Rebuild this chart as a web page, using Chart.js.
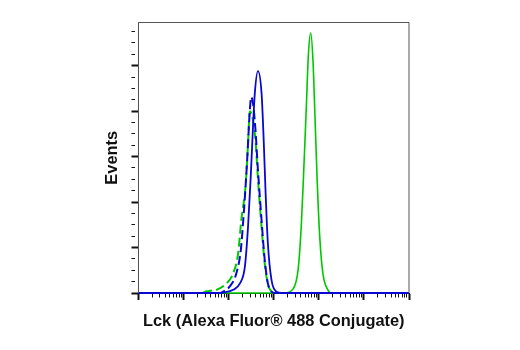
<!DOCTYPE html>
<html lang="en">
  <head>
    <meta charset="UTF-8" />
    <title>Lck histogram</title>
    <script src="https://cdn.jsdelivr.net/npm/chart.js@4.4.1/dist/chart.umd.min.js"></script>
    <style>
      html, body {
        margin: 0;
        padding: 0;
        background: white;
      }
      .chart-container {
        width: 520px;
        height: 350px;
      }
    </style>
  </head>

  <body>
    <div class="chart-container">
      <canvas id="myChart"></canvas>
    </div>

    <script>
      // x is in decades of the log axis (0 = first major tick), y in "Events" units
      const decades = [0, 1, 2, 3, 4, 5, 6];
      const minorSteps = [2, 3, 4, 5, 6, 7, 8, 9];
      const yMajor = [0, 1, 2, 3, 4, 5];
      const yMinor = [0.25, 0.5, 0.75];

      const greenSolidX = [0, 3.24, 3.42, 3.54, 3.61, 3.66, 3.72, 3.77, 3.82, 3.87, 3.91, 3.96, 4.02, 4.09, 4.2, 4.27, 6];
      const greenSolidY = [0, 0, 0.08, 0.51, 1.46, 2.56, 4.02, 5.27, 5.72, 5.12, 4.02, 2.56, 1.24, 0.43, 0.07, 0, 0];

      const blueSolidX = [0, 1.8, 1.88, 2.1, 2.25, 2.36, 2.43, 2.49, 2.54, 2.58, 2.65, 2.73, 2.78, 2.82, 2.87, 2.95, 3.06, 3.17, 6];
      const blueSolidY = [0, 0, 0.01, 0.07, 0.21, 0.58, 1.46, 2.56, 3.65, 4.39, 4.88, 4.39, 3.29, 2.19, 1.09, 0.29, 0.03, 0, 0];

      const blueDashX = [0, 1.8, 1.88, 2.02, 2.17, 2.27, 2.34, 2.41, 2.47, 2.5, 2.54, 2.59, 2.65, 2.73, 2.8, 2.87, 2.95, 3.02, 6];
      const blueDashY = [0, 0, 0.03, 0.14, 0.43, 0.95, 1.82, 2.92, 4.02, 4.31, 4.17, 3.65, 2.7, 1.6, 0.73, 0.21, 0.03, 0, 0];

      const greenDashX = [0, 1.4, 1.51, 1.6, 1.73, 1.95, 2.1, 2.21, 2.28, 2.38, 2.43, 2.47, 2.54, 2.6, 2.65, 2.73, 2.8, 2.87, 2.95, 3.0, 6];
      const greenDashY = [0, 0, 0.04, 0.05, 0.07, 0.21, 0.43, 0.87, 1.6, 2.41, 3.29, 4.0, 3.8, 3.3, 2.5, 1.45, 0.65, 0.2, 0.03, 0, 0];

      const green = "#00c800";
      const blue = "#0808d0";

      function points(xs, ys) {
        return xs.map(function (x, i) {
          return { x: x, y: ys[i] };
        });
      }

      // log-style tick positions: majors at decades, minors at log10(2..9)
      const xTicks = [];
      decades.forEach(function (d) {
        xTicks.push({ value: d, major: true });
        if (d < decades[decades.length - 1]) {
          minorSteps.forEach(function (m) {
            xTicks.push({ value: d + Math.log10(m), major: false });
          });
        }
      });

      const yTicks = [];
      yMajor.forEach(function (v) {
        yTicks.push({ value: v, major: true });
        yMinor.forEach(function (m) {
          yTicks.push({ value: v + m, major: false });
        });
      });

      function tickWidth(ctx) {
        return ctx.tick && ctx.tick.major ? 2 : 1;
      }
      function tickDash(ctx) {
        return ctx.tick && ctx.tick.major ? [] : [3.5, 50];
      }

      const frame = {
        id: "frame",
        afterDraw(chart) {
          const a = chart.chartArea;
          const c = chart.ctx;
          c.save();
          c.strokeStyle = "#555555";
          c.lineWidth = 1;
          c.beginPath();
          c.moveTo(a.left, a.bottom);
          c.lineTo(a.left, a.top);
          c.lineTo(a.right, a.top);
          c.lineTo(a.right, a.bottom);
          c.stroke();
          c.restore();
        },
      };

      const titleFont = {
        family: "'Liberation Sans Narrow', 'Liberation Sans', Arial, sans-serif",
        size: 16.4,
        weight: "bold",
      };

      // first dataset is drawn on top
      const ctx = document.getElementById("myChart").getContext("2d");
      const myChart = new Chart(ctx, {
        type: "line",
        data: {
          datasets: [
            {
              label: "blue solid",
              data: points(blueSolidX, blueSolidY),
              borderColor: blue,
              borderWidth: 1.8,
            },
            {
              label: "blue dashed",
              data: points(blueDashX, blueDashY),
              borderColor: blue,
              borderWidth: 2,
              borderDash: [9, 4],
            },
            {
              label: "green dashed",
              data: points(greenDashX, greenDashY),
              borderColor: green,
              borderWidth: 2,
              borderDash: [9, 4],
            },
            {
              label: "green solid",
              data: points(greenSolidX, greenSolidY),
              borderColor: green,
              borderWidth: 1.6,
            },
          ],
        },
        options: {
          responsive: true,
          maintainAspectRatio: false,
          animation: false,
          events: [],
          layout: {
            padding: { left: 102.8, right: 111, top: 22.5, bottom: 18.9 },
          },
          elements: {
            point: { radius: 0 },
            line: { cubicInterpolationMode: "monotone", fill: false },
          },
          datasets: {
            line: { clip: 4 },
          },
          scales: {
            x: {
              type: "linear",
              min: 0,
              max: 6,
              afterBuildTicks(scale) {
                scale.ticks = xTicks.map(function (t) {
                  return { value: t.value, major: t.major };
                });
              },
              ticks: { display: false },
              border: { color: "#222222", width: 1 },
              grid: {
                drawOnChartArea: false,
                tickLength: 7,
                tickColor: "#111111",
                tickWidth: tickWidth,
                tickBorderDash: tickDash,
              },
              title: {
                display: true,
                text: "Lck (Alexa Fluor\u00AE 488 Conjugate)",
                color: "#111111",
                font: titleFont,
                padding: { top: 11.4, bottom: 0 },
              },
            },
            y: {
              type: "linear",
              min: 0,
              max: 5.95,
              afterBuildTicks(scale) {
                scale.ticks = yTicks.map(function (t) {
                  return { value: t.value, major: t.major };
                });
              },
              ticks: { display: false },
              border: { color: "#555555", width: 1 },
              grid: {
                drawOnChartArea: false,
                tickLength: 7,
                tickColor: "#111111",
                tickWidth: tickWidth,
                tickBorderDash: tickDash,
              },
              title: {
                display: true,
                text: "Events",
                color: "#111111",
                font: titleFont,
                padding: { top: 0, bottom: 9 },
              },
            },
          },
          plugins: {
            legend: { display: false },
            tooltip: { enabled: false },
          },
        },
        plugins: [frame],
      });
    </script>
  </body>
</html>
